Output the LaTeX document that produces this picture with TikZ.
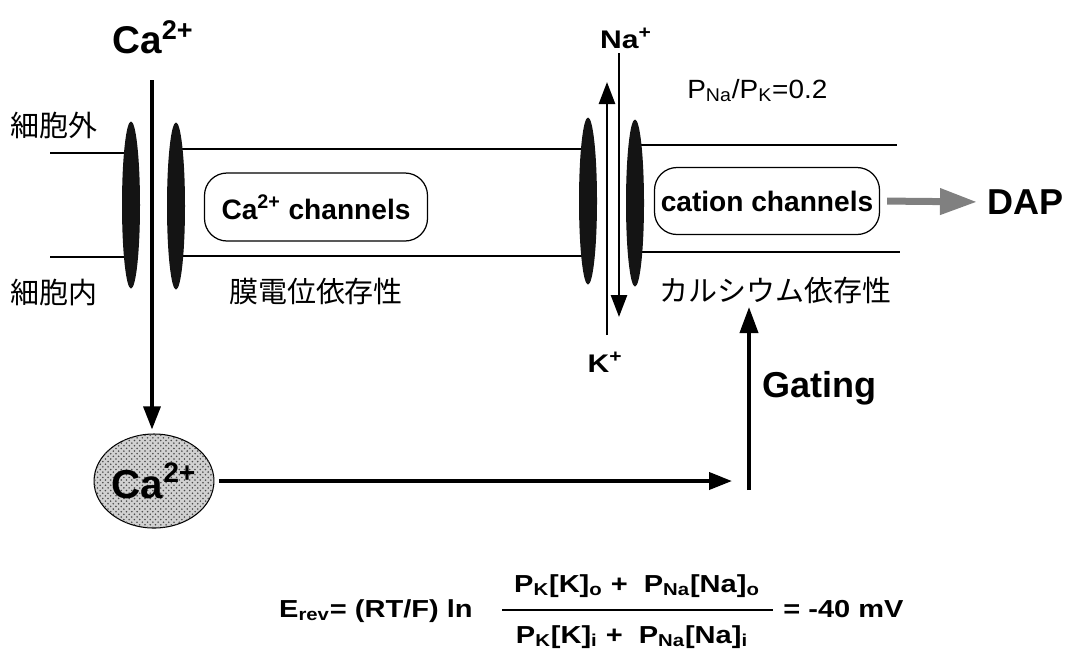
\documentclass[tikz,border=0pt]{standalone}
\usepackage{fontspec}
\setmainfont{Liberation Sans}
\newfontfamily\jpfont{Noto Sans CJK JP}
\newfontfamily\widesf[FakeStretch=1.18]{Liberation Sans}
\newfontfamily\ratiosf[FakeStretch=1.06]{Liberation Sans}
\usetikzlibrary{arrows.meta,positioning,shapes.geometric,patterns}
\pgfdeclarelayer{bg}
\pgfsetlayers{bg,main}
\tikzset{
  membrane/.style={line width=0.9pt},
  pore/.style={
    ellipse,
    fill=black!92,
    minimum width=3.6mm,
    minimum height=33.4mm,
    inner sep=0pt
  },
  chanbox/.style={
    draw,
    rounded corners=4.5mm,
    line width=0.7pt,
    minimum height=13.6mm,
    inner sep=0pt,
    font=\bfseries\fontsize{16}{18}\selectfont
  },
  jplabel/.style={font=\jpfont\fontsize{16.5}{18}\selectfont, inner sep=0pt},
  biglabel/.style={font=\bfseries\fontsize{20.5}{22}\selectfont, inner sep=0pt},
  ionlabel/.style={font=\widesf\bfseries\fontsize{14.5}{16}\selectfont, inner sep=0pt},
  eq/.style={font=\widesf\bfseries\fontsize{14}{16}\selectfont, inner sep=0pt},
  ionpool/.style={
    ellipse,
    draw,
    line width=0.6pt,
    fill=black!18,
    postaction={pattern=crosshatch dots, pattern color=black!70},
    minimum width=22.4mm,
    minimum height=18.8mm,
    inner sep=0pt,
    font=\bfseries\fontsize{23}{25}\selectfont
  },
  flux/.style={line width=1.8pt, -{Triangle[length=4.6mm, width=3.4mm]}},
  ionflow/.style={line width=1.5pt, -{Triangle[length=4.4mm, width=3.2mm]}},
  dapflow/.style={draw=black!50, line width=1.4mm, -{Triangle[length=7.4mm, width=5mm, fill=black!50]}},
  fracbar/.style={line width=1pt}
}

\begin{document}
\begin{tikzpicture}[x=0.2mm, y=-0.2mm]
  \useasboundingbox (0,0) rectangle (1074,654);

  % channel pores
  \node[pore] (poreA) at (131,205) {};
  \node[pore] (poreB) at (176,206) {};
  \node[pore] (poreC) at (588,201) {};
  \node[pore] (poreD) at (635,203) {};

  % membrane
  \coordinate (outL) at (50,153);
  \coordinate (inL) at (50,257);
  \coordinate (outM) at (400,149);
  \coordinate (inM) at (400,256);
  \coordinate (outR) at (897,145);
  \coordinate (inR) at (900,252);
  \begin{pgfonlayer}{bg}
    \draw[membrane] (outL) -- (outL -| poreA);
    \draw[membrane] (inL) -- (inL -| poreA);
    \draw[membrane] (poreB |- outM) -- (poreC |- outM);
    \draw[membrane] (poreB |- inM) -- (poreC |- inM);
    \draw[membrane] (poreD |- outR) -- (outR);
    \draw[membrane] (poreD |- inR) -- (inR);
  \end{pgfonlayer}

  \node[jplabel] (outside) at (54,125) {細胞外};
  \node[jplabel] (inside) at (54,292) {細胞内};

  % channels
  \node[chanbox, minimum width=44.6mm] (caChan) at (316,207) {Ca\textsuperscript{2+} channels};
  \node[chanbox, minimum width=45mm, minimum height=13.4mm] (catChan) at (767,201) {cation channels};
  \node[jplabel, below=7.2mm of caChan] (voltDep) {膜電位依存性};
  \node[jplabel, below=8.4mm of catChan, xshift=1.6mm] (calDep) {カルシウム依存性};

  % calcium entry
  \node[biglabel, font=\bfseries\fontsize{22}{24}\selectfont, anchor=base] (caHead) at (153,53) {Ca\textsuperscript{2+}};
  \coordinate (caSrc) at (152,80);
  \node[ionpool] (ion) at (154,481) {Ca\textsuperscript{2+}};
  \draw[flux] (caSrc) -- (caSrc |- ion.north) [shorten >=0.8mm];

  % gating path
  \coordinate (gateFoot) at (749,490);
  \coordinate (gateTop) at (749,307);
  \draw[flux, line width=2.2pt, shorten <=1mm, shorten >=3.4mm] (ion.east) -- (ion.east -| gateFoot);
  \draw[flux, line width=2.2pt, -{Triangle[length=5.2mm, width=3.6mm]}] (gateFoot) -- (gateTop);
  \node[biglabel, anchor=west] (gating) at (762,388) {Gating};

  % Na / K fluxes
  \node[ionlabel, anchor=base] (naLbl) at (626,48) {Na\textsuperscript{+}};
  \node[ionlabel, anchor=base] (kLbl) at (605,372) {K\textsuperscript{+}};
  \coordinate (naIn) at (619,53);
  \coordinate (naOut) at (619,317);
  \coordinate (kIn) at (607,335);
  \coordinate (kOut) at (607,82);
  \draw[ionflow] (naIn) -- (naOut);
  \draw[ionflow] (kIn) -- (kOut);
  \node[font=\ratiosf\fontsize{15}{17}\selectfont, inner sep=0pt, anchor=base west] (ratio) at (687,98)
    {P\textsubscript{Na}/P\textsubscript{K}=0.2};

  % DAP
  \node[biglabel, anchor=west] (dap) at (987,202) {DAP};
  \draw[dapflow, shorten <=1.4mm, shorten >=2mm] (catChan.east) -- (dap.west);

  % reversal potential
  \node[eq, anchor=base east] (erev) at (473,617) {E\textsubscript{rev}= (RT/F) ln};
  \node[eq, anchor=base] (numer) at (637,592)
    {P\textsubscript{K}[K]\textsubscript{o} +\ \ P\textsubscript{Na}[Na]\textsubscript{o}};
  \node[eq, anchor=base] (denom) at (632,643)
    {P\textsubscript{K}[K]\textsubscript{i} +\ \ P\textsubscript{Na}[Na]\textsubscript{i}};
  \coordinate (fracL) at (502,610);
  \coordinate (fracR) at (773,610);
  \draw[fracbar] (fracL) -- (fracR);
  \node[eq, anchor=base west] (erevVal) at (783,617) {= -40 mV};
\end{tikzpicture}
\end{document}
